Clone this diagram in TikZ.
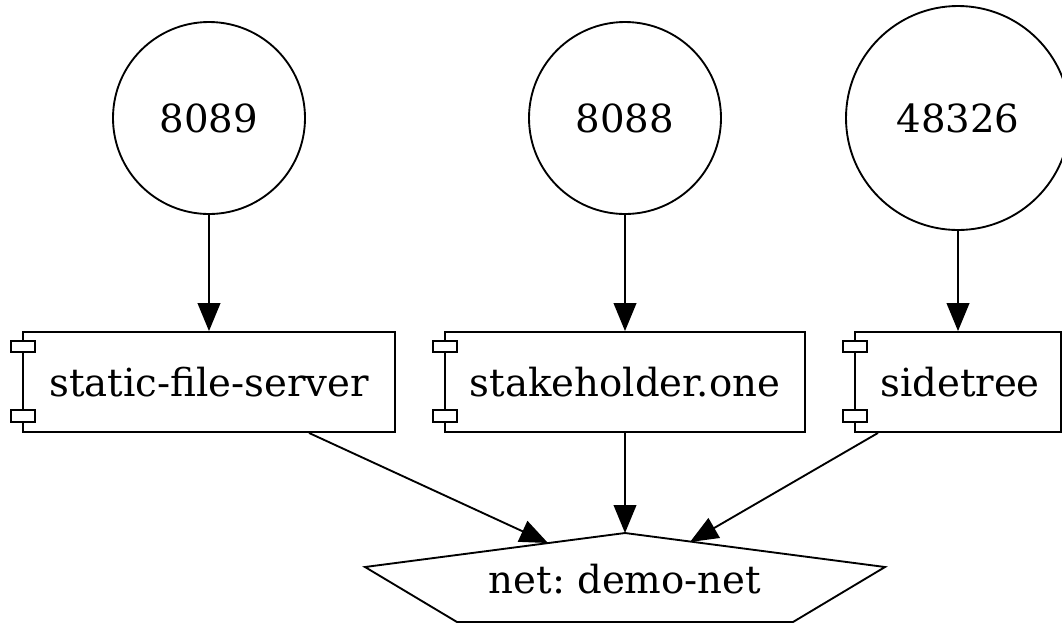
\documentclass[tikz,border=0pt]{standalone}
\usepackage{fontspec}
\setmainfont{DejaVu Serif}
\usetikzlibrary{arrows.meta}
\frenchspacing
\begin{document}
\begin{tikzpicture}[x=0.75pt,y=-0.75pt,
  every node/.style={font=\fontsize{29}{34}\selectfont},
  port/.style={draw,circle,line width=1.4pt,inner sep=0pt},
  comp/.style={draw,rectangle,line width=1.4pt,minimum height=75pt,inner sep=0pt},
  tab/.style={draw,line width=1.4pt,fill=white},
  edge/.style={line width=1.4pt,-{Triangle[length=21pt,width=17pt]}}]
\useasboundingbox (0,0) rectangle (1062,626);
\clip (0,0) rectangle (1062,626);
% ports
\node[port,minimum size=144pt] (p8089) at (209,118) {8089};
\node[port,minimum size=144pt] (p8088) at (625,118) {8088};
\node[port,minimum size=168pt] (p48326) at (958,118) {48326};
% components
\node[comp,minimum width=279pt] (sfs) at (209,382) {};
\node at (209,382) {static-file-server};
\node[comp,minimum width=270pt] (sho) at (625,382) {};
\node at (625,382) {stakeholder.one};
\node[comp,minimum width=154.5pt] (st) at (958,382) {};
\node at (960,382) {sidetree};
% tabs
\foreach \n in {sfs,sho,st}{
  \draw[tab] ([xshift=-8.25pt,yshift=-7.5pt]\n.north west) rectangle ([xshift=9.75pt,yshift=-15.75pt]\n.north west);
  \draw[tab] ([xshift=-8.25pt,yshift=8.25pt]\n.south west) rectangle ([xshift=9.75pt,yshift=17.25pt]\n.south west);
}
% network pentagon
\coordinate (nT) at (625,533);
\coordinate (nL) at (365,567);
\coordinate (nR) at (885,567);
\coordinate (nBL) at (457,622);
\coordinate (nBR) at (793,622);
\draw[line width=1.4pt,line join=miter] (nT) -- (nR) -- (nBR) -- (nBL) -- (nL) -- cycle;
\node (net) at (625,579) {net: demo-net};
\coordinate (netA) at (548,543);
\coordinate (netC) at (690,542);
% edges
\draw[edge] (p8089.south) -- (sfs.north);
\draw[edge] (p8088.south) -- (sho.north);
\draw[edge] (p48326.south -| st.north) -- (st.north);
\draw[edge] ([xshift=75pt]sfs.south) -- (netA);
\draw[edge] (sho.south) -- (nT);
\draw[edge] ([xshift=-60pt]st.south) -- (netC);
\end{tikzpicture}
\end{document}
